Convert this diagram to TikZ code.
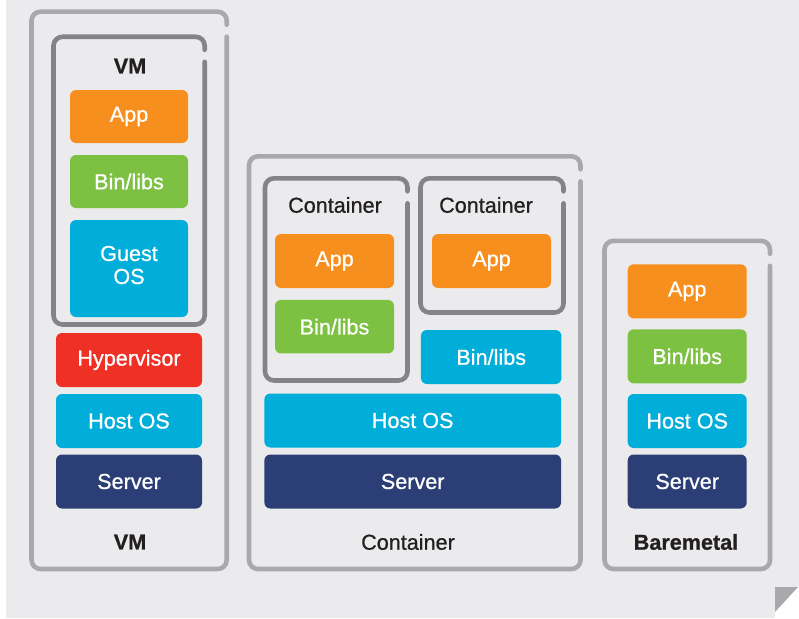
\documentclass[tikz,border=0pt]{standalone}
\usepackage{fontspec}
\setmainfont{Liberation Sans}[FakeBold=0.8]
\newfontfamily\medfont{Liberation Sans}[FakeBold=0.8]
\definecolor{bgc}{HTML}{EBEBED}
\definecolor{outerc}{HTML}{A8A9AB}
\definecolor{innerc}{HTML}{838487}
\definecolor{appc}{HTML}{F78F1E}
\definecolor{binc}{HTML}{7DC143}
\definecolor{osc}{HTML}{00AED9}
\definecolor{hypc}{HTML}{EE3124}
\definecolor{srvc}{HTML}{2B3F76}
\definecolor{txtc}{HTML}{231F20}
\definecolor{flapc}{HTML}{A8A9AB}
\newcommand\lblfont{\medfont\fontsize{21.6}{24}\selectfont}
\newcommand\gapframe[5]{%
  \draw[#5] (#3,#2+13) -- (#3,#2) -- (#1,#2) -- (#1,#4) -- (#3,#4) -- (#3,#2+25);}
\tikzset{
  blk/.style={rounded corners=6pt, inner sep=0pt, text=white, align=center, font=\lblfont},
  lbl/.style={inner sep=0pt, text=txtc, font=\lblfont},
  outerframe/.style={draw=outerc, line width=4.6pt, rounded corners=9pt, line cap=round},
  innerframe/.style={draw=innerc, line width=4.6pt, rounded corners=9pt, line cap=round},
}
\begin{document}
\begin{tikzpicture}[x=1pt,y=-1pt]
\useasboundingbox (0,0) rectangle (799,618);
% background page
\fill[bgc] (6,0) rectangle (799,618);
\fill[white] (775,587) rectangle (799,618);
\fill[flapc] (775,587) -- (798,587) -- (775,612) -- cycle;

% frames
\gapframe{31.5}{11.7}{226.7}{569}{outerframe}
\gapframe{53.5}{36.8}{204.7}{324.5}{innerframe}
\gapframe{249}{156.3}{580.5}{569}{outerframe}
\gapframe{265}{178.3}{407.5}{380.5}{innerframe}
\gapframe{420.5}{178.3}{563.5}{312.5}{innerframe}
\gapframe{604.5}{240.8}{770}{569}{outerframe}

% VM column
\node[lbl, font=\lblfont\bfseries] (vmtop) at (130,66) {VM};
\node[blk, fill=appc, minimum width=118pt, minimum height=53pt] (vmapp) at (129,116.5) {App};
\node[blk, fill=binc, minimum width=118pt, minimum height=53pt] (vmbin) at (129,181.5) {Bin/libs};
\node[blk, fill=osc, minimum width=118pt, minimum height=97pt] (vmguest) at (129,268.5) {};
\node[blk, fill=none] (vmguesttxt) at (129,265) {Guest\\[-1pt]OS};
\node[blk, fill=hypc, minimum width=146pt, minimum height=54pt] (vmhyp) at (129,360) {Hypervisor};
\node[blk, fill=osc, minimum width=146pt, minimum height=54pt] (vmhost) at (129,421) {Host OS};
\node[blk, fill=srvc, minimum width=146pt, minimum height=54pt] (vmsrv) at (129,481.5) {Server};
\node[lbl, font=\lblfont\bfseries] (vmbot) at (130,542) {VM};

% Container column
\node[lbl] (c1lbl) at (335,205) {Container};
\node[lbl] (c2lbl) at (486,205) {Container};
\node[blk, fill=appc, minimum width=119pt, minimum height=54pt] (c1app) at (334.5,261) {App};
\node[blk, fill=appc, minimum width=119pt, minimum height=54pt] (c2app) at (491.5,261) {App};
\node[blk, fill=binc, minimum width=119pt, minimum height=53.5pt] (c1bin) at (334.5,326.7) {Bin/libs};
\node[blk, fill=osc, minimum width=140.5pt, minimum height=54pt] (c2bin) at (491.2,357) {Bin/libs};
\node[blk, fill=osc, minimum width=296.7pt, minimum height=54pt] (chost) at (412.7,420.5) {Host OS};
\node[blk, fill=srvc, minimum width=296.7pt, minimum height=54pt] (csrv) at (412.7,481.5) {Server};
\node[lbl] (cbot) at (408,542) {Container};

% Baremetal column
\node[blk, fill=appc, minimum width=119pt, minimum height=54pt] (bapp) at (687.2,291.3) {App};
\node[blk, fill=binc, minimum width=119pt, minimum height=54pt] (bbin) at (687.2,356.3) {Bin/libs};
\node[blk, fill=osc, minimum width=119pt, minimum height=54pt] (bhost) at (687.2,421) {Host OS};
\node[blk, fill=srvc, minimum width=119pt, minimum height=54pt] (bsrv) at (687.2,481.5) {Server};
\node[lbl, font=\lblfont\bfseries] (bbot) at (686,542) {Baremetal};
\end{tikzpicture}
\end{document}
